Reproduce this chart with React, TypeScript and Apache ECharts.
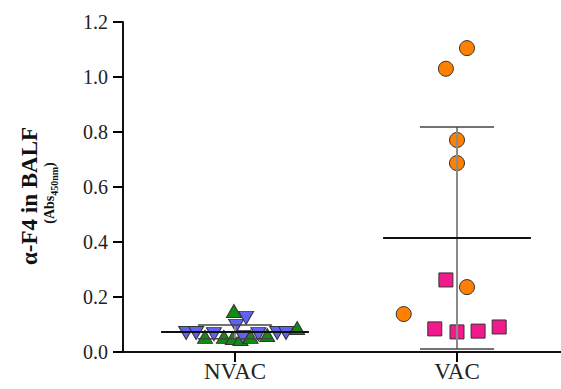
import React, { useEffect, useRef } from "react";
import * as echarts from "echarts";

const categories = ["NVAC", "VAC"];

// NVAC group: [x position (jittered around 1), value]
const nvacBlue: number[][] = [
  [0.78, 0.069], [0.825, 0.069], [0.905, 0.065], [1.005, 0.095], [1.035, 0.055],
  [1.05, 0.124], [1.105, 0.065], [1.19, 0.069], [1.23, 0.069],
];
const nvacGreen: number[][] = [
  [0.865, 0.055], [0.95, 0.055], [0.99, 0.051], [0.995, 0.149], [1.025, 0.047],
  [1.07, 0.055], [1.145, 0.062], [1.28, 0.087],
];
// VAC group
const vacCircles: number[][] = [
  [2.045, 1.105], [1.95, 1.03], [2.0, 0.771], [2.0, 0.687], [2.045, 0.236], [1.76, 0.138],
];
const vacSquares: number[][] = [
  [1.95, 0.262], [1.9, 0.084], [2.0, 0.073], [2.095, 0.076], [2.19, 0.091],
];

const means = [0.073, 0.415];
const sdUpper = [0.098, 0.818];
const sdLower = [0.048, 0.011];

export default function App() {
  const ref = useRef<HTMLDivElement>(null);
  useEffect(() => {
    if (!ref.current) return;
    document.body.style.margin = "0";
    const chart = echarts.init(ref.current, null, { renderer: "svg" });
    const font = "Liberation Serif";
    const seg = (pts: number[][], color: string, width: number, z: number) => ({
      type: "line",
      data: pts,
      symbol: "none",
      silent: true,
      z,
      lineStyle: { color, width },
    });
    const errSeries: any[] = [];
    means.forEach((m, i) => {
      const x = i + 1;
      errSeries.push(seg([[x, sdLower[i]], [x, sdUpper[i]]], "#8a8a8a", 2, 5));
      errSeries.push(seg([[x - 0.167, sdUpper[i]], [x + 0.167, sdUpper[i]]], "#444", 1.5, 6));
      errSeries.push(seg([[x - 0.167, sdLower[i]], [x + 0.167, sdLower[i]]], "#444", 1.5, 6));
      errSeries.push(seg([[x - 0.333, m], [x + 0.333, m]], "#111", 2, 7));
    });
    const border = { borderColor: "#333", borderWidth: 1, opacity: 1 };
    chart.setOption({
      animation: false,
      grid: { left: 123, right: 0, top: 22, bottom: 37, containLabel: false },
      xAxis: {
        type: "value",
        min: 0.4955,
        max: 2.4685,
        splitLine: { show: false },
        axisLine: { show: true, lineStyle: { color: "#111", width: 2 } },
        axisTick: { show: true, customValues: [1, 2], length: 10, lineStyle: { color: "#000", width: 2 } },
        axisLabel: {
          customValues: [1, 2],
          formatter: (v: number) => categories[Math.round(v) - 1] ?? "",
          fontFamily: font,
          fontSize: 23,
          color: "#222",
          margin: 8,
        },
      },
      yAxis: {
        type: "value",
        min: 0,
        max: 1.2,
        interval: 0.2,
        splitLine: { show: false },
        axisLine: { show: true, lineStyle: { color: "#111", width: 2 } },
        axisTick: { show: true, length: 10, lineStyle: { color: "#000", width: 2 } },
        axisLabel: {
          formatter: (v: number) => v.toFixed(1),
          fontFamily: font,
          fontSize: 20,
          color: "#222",
          margin: 15,
        },
      },
      graphic: [
        {
          type: "text",
          x: 29,
          y: 196,
          rotation: Math.PI / 2,
          style: {
            text: "α-F4 in BALF",
            font: `bold 23px "${font}"`,
            fill: "#111",
            align: "center",
            verticalAlign: "middle",
          },
        },
        {
          type: "text",
          x: 49,
          y: 193,
          rotation: Math.PI / 2,
          style: {
            text: "{a|(Abs}{s|450nm}{a|)}",
            fill: "#111",
            align: "center",
            verticalAlign: "middle",
            rich: {
              a: { fontFamily: font, fontWeight: "bold", fontSize: 14, lineHeight: 20, verticalAlign: "middle" },
              s: { fontFamily: font, fontWeight: "bold", fontSize: 10, lineHeight: 20, verticalAlign: "bottom" },
            },
          },
        },
      ],
      series: [
        {
          type: "scatter",
          data: nvacGreen,
          symbol: "triangle",
          symbolSize: [15, 13],
          itemStyle: { color: "#138a13", ...border },
          z: 3,
        },
        {
          type: "scatter",
          data: nvacBlue,
          symbol: "triangle",
          symbolRotate: 180,
          symbolSize: [15, 13],
          itemStyle: { color: "#6161f2", ...border },
          z: 3,
        },
        {
          type: "scatter",
          data: vacCircles,
          symbol: "circle",
          symbolSize: 15,
          itemStyle: { color: "#ff8000", ...border },
          z: 3,
        },
        {
          type: "scatter",
          data: vacSquares,
          symbol: "rect",
          symbolSize: 14,
          itemStyle: { color: "#f01a8a", ...border },
          z: 3,
        },
        ...errSeries,
      ],
    });
    return () => chart.dispose();
  }, []);
  return <div ref={ref} style={{ width: 561, height: 389 }} />;
}
